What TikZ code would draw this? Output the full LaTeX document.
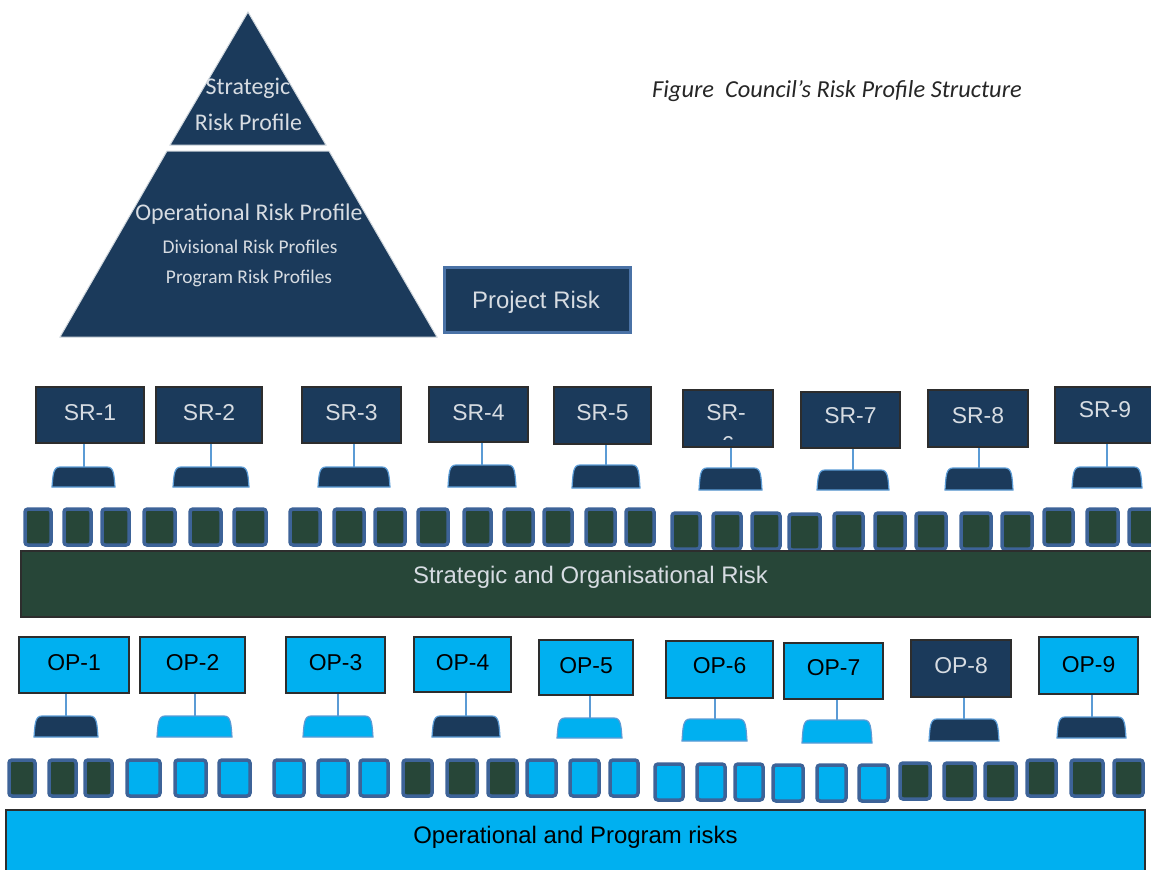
\documentclass[tikz,border=0pt]{standalone}
\usepackage{fontspec}
\setmainfont{Liberation Sans}
\newfontfamily\calibri{Carlito}
\usetikzlibrary{fit}
\definecolor{navy}{RGB}{27,58,91}
\definecolor{dgreen}{RGB}{39,70,56}
\definecolor{lblue}{RGB}{0,176,240}
\definecolor{sqborder}{RGB}{61,99,152}
\definecolor{stemc}{RGB}{91,155,213}
\definecolor{labgray}{RGB}{215,220,226}
\definecolor{boxline}{RGB}{45,45,45}
\definecolor{prjline}{RGB}{74,114,166}
\newcommand\tabcap[6]{%
  \path[fill=#6, draw=stemc, line width=1.2bp]
    (#2,#5) .. controls (#2+1,#4+8) and (#2+1,#4) .. (#2+8,#4)
    -- (#3-8,#4) .. controls (#3-1,#4) and (#3-1,#4+8) .. (#3,#5) -- cycle;
  \coordinate (#1) at ({(#2+#3)/2},#4);}
\begin{document}
\begin{tikzpicture}[x=1bp,y=-1bp,
  srbox/.style={draw=boxline, line width=1.5bp, fill=navy, inner sep=0pt},
  opbox/.style={draw=boxline, line width=1.5bp, fill=lblue, inner sep=0pt},
  opdark/.style={opbox, fill=navy},
  lab/.style={anchor=base, inner sep=0pt, font=\fontsize{23}{27}\selectfont},
  lablight/.style={lab, text=labgray},
  labdark/.style={lab, text=black},
  sqg/.style={draw=sqborder, line width=3.5bp, fill=dgreen, rounded corners=3bp, inner sep=0pt},
  sqb/.style={sqg, fill=lblue},
  stem/.style={draw=stemc, line width=2bp},
  bar/.style={draw=boxline, line width=1.5bp, inner sep=0pt},
  pyr/.style={fill=navy, draw=white!80!navy, line width=1bp},
  pyrtext/.style={text=labgray, font=\calibri\fontsize{24}{28}\selectfont, anchor=base, inner sep=0pt},
  pyrsmall/.style={text=labgray, font=\calibri\fontsize{19.5}{23}\selectfont, anchor=base, inner sep=0pt},
  bartext/.style={font=\fontsize{24}{28}\selectfont, anchor=base, inner sep=0pt}
]
\useasboundingbox (0,0) rectangle (1151,870);

% pyramid
\path[pyr] (248,12) -- (326,145) -- (170,145) -- cycle;
\path[pyr] (167,151) -- (329,151) -- (437,337) -- (60,337) -- cycle;
\node[pyrtext] (t1) at (248,94) {Strategic};
\node[pyrtext] (t2) at (248.5,130) {Risk Profile};
\node[pyrtext] (t3) at (249,220) {Operational Risk Profile};
\node[pyrsmall] (t4) at (250,253) {Divisional Risk Profiles};
\node[pyrsmall] (t5) at (249,283) {Program Risk Profiles};

% project risk
\node[fill=navy, draw=prjline, line width=3bp, inner sep=0pt, fit={(444,267) (630,332)}] (prj) {};
\node[bartext, text=labgray] (prjt) at (536,308) {Project Risk};

% title
\node[anchor=base west, inner sep=0pt, text=black!85, font=\calibri\itshape\fontsize{24.5}{29}\selectfont]
  (title) at (652,97) {Figure\ \ Council’s Risk Profile Structure};

% SR boxes
\node[srbox, fit={(36,387) (144,443)}] (sr1) {};
\node[srbox, fit={(156,387) (262,443)}] (sr2) {};
\node[srbox, fit={(302,387) (401,443)}] (sr3) {};
\node[srbox, fit={(429,387) (528,442)}] (sr4) {};
\node[srbox, fit={(554,387) (651,444)}] (sr5) {};
\node[srbox, fit={(683,390) (773,447)}] (sr6) {};
\node[srbox, fit={(801,392) (900,448)}] (sr7) {};
\node[srbox, fit={(928,390) (1028,447)}] (sr8) {};
\node[srbox, fit={(1055,387) (1155,443)}] (sr9) {};
\node[lablight] (sr1t) at (90,420) {SR-1};
\node[lablight] (sr2t) at (209,420) {SR-2};
\node[lablight] (sr3t) at (351.5,420) {SR-3};
\node[lablight] (sr4t) at (478.5,420) {SR-4};
\node[lablight] (sr5t) at (602.5,420) {SR-5};
\node[lablight] (sr6t) at (726,420) {SR-};
\begin{scope}
  \clip (684,391) rectangle (772,439.5);
  \node[lablight] (sr6b) at (728,452) {6};
\end{scope}
\node[lablight] (sr7t) at (850.5,423) {SR-7};
\node[lablight] (sr8t) at (978,423) {SR-8};
\node[lablight] (sr9t) at (1105,417) {SR-9};

% SR caps
\tabcap{sr1c}{52}{115}{467}{487}{navy}
\tabcap{sr2c}{173}{249}{467}{487}{navy}
\tabcap{sr3c}{318}{390}{467}{487}{navy}
\tabcap{sr4c}{448}{516}{465}{487}{navy}
\tabcap{sr5c}{572}{640}{465}{488}{navy}
\tabcap{sr6c}{699}{762}{468}{490}{navy}
\tabcap{sr7c}{817}{889}{470}{490}{navy}
\tabcap{sr8c}{945}{1013}{468}{490}{navy}
\tabcap{sr9c}{1072}{1142}{467}{488}{navy}
\foreach \i in {1,...,9}{\draw[stem] (sr\i c) -- (sr\i c |- sr\i.south);}

% row 1 squares
\foreach \a/\b/\t [count=\i] in {23/53/507,62/93/507,100/131/507,142/177/507,188/223/507,
  232/268/507,288/322/507,332/366/507,373/407/507,416/450/507,462/493/507,502/535/507,
  542/574/507,584/617/507,624/656/507,670/702/511,711/743/511,750/782/511,787/822/512,
  832/865/511,873/907/511,914/948/511,959/993/511,1000/1034/511,1042/1075/507,
  1085/1120/507,1127/1162/507}{
  \node[sqg, fit={(\a+2,\t+2) (\b-2,\t+38)}] (ra\i) {};
}

% green bar
\node[bar, fill=dgreen, fit={(21,551) (1165,617)}] (gbar) {};
\node[bartext, text=labgray] (gtext) at (590.5,583) {Strategic and Organisational Risk};

% OP boxes
\node[opbox, fit={(19,637) (129,693)}] (op1) {};
\node[opbox, fit={(140,637) (245,693)}] (op2) {};
\node[opbox, fit={(286,637) (385,693)}] (op3) {};
\node[opbox, fit={(414,637) (511,692)}] (op4) {};
\node[opbox, fit={(539,640) (633,695)}] (op5) {};
\node[opbox, fit={(666,641) (773,698)}] (op6) {};
\node[opbox, fit={(784,643) (883,699)}] (op7) {};
\node[opdark, fit={(911,640) (1011,697)}] (op8) {};
\node[opbox, fit={(1039,637) (1138,694)}] (op9) {};
\node[labdark] (op1t) at (74,670) {OP-1};
\node[labdark] (op2t) at (192.5,670) {OP-2};
\node[labdark] (op3t) at (335.5,670) {OP-3};
\node[labdark] (op4t) at (462.5,670) {OP-4};
\node[labdark] (op5t) at (586,673) {OP-5};
\node[labdark] (op6t) at (719.5,673) {OP-6};
\node[labdark] (op7t) at (833.5,675) {OP-7};
\node[lablight] (op8t) at (961,673) {OP-8};
\node[labdark] (op9t) at (1088.5,672) {OP-9};

% OP caps
\tabcap{op1c}{34}{98}{716}{737}{navy}
\tabcap{op2c}{157}{232}{716}{737}{lblue}
\tabcap{op3c}{303}{373}{716}{737}{lblue}
\tabcap{op4c}{432}{500}{716}{737}{navy}
\tabcap{op5c}{557}{622}{718}{738}{lblue}
\tabcap{op6c}{682}{747}{719}{741}{lblue}
\tabcap{op7c}{802}{872}{720}{743}{lblue}
\tabcap{op8c}{929}{999}{719}{741}{navy}
\tabcap{op9c}{1057}{1126}{717}{738}{navy}
\foreach \i in {1,...,9}{\draw[stem] (op\i c) -- (op\i c |- op\i.south);}

% row 2 squares
\foreach \a/\b/\t/\c [count=\i] in {7/37/758/g,47/78/758/g,83/114/758/g,125/162/758/b,
  173/208/758/b,217/252/758/b,272/306/758/b,316/350/758/b,358/390/758/b,401/434/758/g,
  445/479/758/g,486/519/758/g,525/558/758/b,568/601/758/b,608/640/758/b,653/685/762/b,
  695/727/762/b,733/765/762/b,771/805/763/b,815/848/763/b,857/890/763/b,898/932/761/g,
  942/977/761/g,983/1018/761/g,1025/1058/758/g,1069/1105/758/g,1112/1145/758/g}{
  \node[sq\c, fit={(\a+2,\t+2) (\b-2,\t+38)}] (rb\i) {};
}

% blue bar
\node[bar, fill=lblue, fit={(6,810) (1145,885)}] (bbar) {};
\node[bartext, text=black] (btext) at (575.5,843) {Operational and Program risks};
\end{tikzpicture}
\end{document}
